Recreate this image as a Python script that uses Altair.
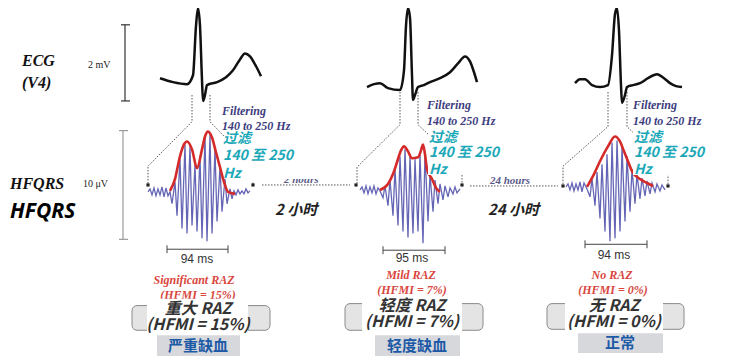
import altair as alt
import pandas as pd

# ---------------- data (image-pixel coordinates) ----------------
ecg_beat1 = [(160, 83), (173, 87), (187, 89), (193, 80), (196, 30), (198, 12), (200, 30), (202, 85), (203, 106),
             (205, 100), (207, 90), (217, 87), (226, 82), (233, 75), (240, 64), (245, 58), (250, 61), (255, 69), (261, 81)]
ecg_beat2 = [(367, 92), (374, 89), (380, 88), (388, 93), (400, 95), (404, 75), (406, 30), (408, 12), (410, 22),
             (412, 80), (413, 105), (415, 100), (418, 92), (424, 90), (430, 87), (440, 83), (450, 77), (458, 68),
             (465, 61), (470, 66), (474, 77), (477, 87)]
ecg_beat3 = [(575, 88), (580, 84), (585, 84), (592, 90), (600, 92), (608, 90), (612, 60), (615, 18), (617, 12),
             (619, 35), (621, 90), (622, 108), (625, 100), (627, 92), (633, 90), (640, 88), (648, 83), (657, 79),
             (664, 83), (670, 88), (676, 91), (682, 92)]

hf_burst1 = [(148, 198), (150, 195), (152, 201), (154, 194), (156, 202), (158, 195), (160, 201), (162, 193),
             (164, 203), (166, 194), (168, 202), (170, 198), (172, 210), (175, 188), (177, 222), (180, 165),
             (182, 235), (185, 150), (187, 240), (190, 152), (192, 232), (195, 170), (197, 238), (200, 162),
             (202, 245), (205, 142), (207, 248), (210, 140), (212, 240), (215, 155), (217, 228), (220, 172),
             (222, 218), (225, 185), (227, 210), (230, 195), (232, 205), (234, 197), (236, 201), (238, 196),
             (240, 200), (242, 197), (244, 200), (246, 195), (248, 199), (250, 197)]
hf_burst2 = [(360, 196), (362, 193), (364, 199), (366, 192), (368, 200), (370, 193), (372, 199), (374, 192),
             (376, 200), (378, 194), (380, 197), (383, 204), (385, 192), (388, 212), (390, 186), (393, 222),
             (395, 175), (398, 232), (400, 162), (403, 238), (405, 155), (408, 244), (410, 162), (413, 240),
             (415, 165), (418, 238), (420, 160), (423, 250), (425, 158), (428, 228), (430, 180), (433, 218),
             (435, 186), (438, 210), (440, 190), (443, 206), (445, 192), (448, 203), (450, 194), (453, 200),
             (455, 193), (457, 199), (460, 195)]
hf_burst3 = [(566, 193), (568, 190), (570, 196), (572, 189), (574, 197), (576, 190), (578, 196), (580, 188),
             (582, 198), (584, 189), (587, 195), (590, 203), (592, 185), (595, 212), (597, 178), (600, 225),
             (602, 170), (605, 238), (607, 160), (610, 248), (612, 148), (615, 245), (617, 146), (620, 238),
             (622, 152), (625, 228), (627, 162), (630, 218), (632, 175), (635, 210), (637, 180), (640, 205),
             (642, 184), (645, 202), (647, 187), (650, 200), (652, 189), (655, 198), (657, 190), (660, 197),
             (662, 191), (665, 196)]

env_burst1 = [(170, 197), (175, 185), (180, 162), (184, 150), (187, 147), (192, 155), (197, 174), (202, 155),
              (205, 142), (208, 137), (212, 143), (216, 158), (220, 173), (224, 188), (228, 198), (235, 200)]
env_burst2 = [(380, 196), (388, 190), (393, 180), (397, 168), (401, 156), (404, 152), (408, 157), (412, 164),
              (418, 163), (421, 156), (423, 150), (425, 160), (427, 175), (432, 185), (436, 194), (440, 198)]
env_burst3 = [(587, 193), (594, 180), (600, 167), (608, 152), (615, 142), (620, 147), (624, 157), (628, 167),
              (632, 177), (640, 185), (647, 189), (653, 192)]

dotted_paths = [
    [(192, 100), (192, 127), (148, 172), (148, 190)],
    [(210, 100), (210, 127), (253, 172), (253, 190)],
    [(400, 97), (400, 130), (357, 173), (357, 190)],
    [(418, 97), (418, 130), (462, 172), (462, 190)],
    [(608, 97), (608, 132), (563, 172), (563, 190)],
    [(627, 97), (627, 132), (668, 172), (668, 190)],
    [(262, 191), (350, 191)],
    [(470, 192), (558, 192)],
]
end_dots = [(148, 191), (253, 191), (356, 191), (462, 191), (563, 192), (668, 192)]

ms_bars = [
    [(167, 256), (228, 256)], [(167, 252), (167, 260)], [(228, 252), (228, 260)],
    [(383, 257), (445, 257)], [(383, 253), (383, 261)], [(445, 253), (445, 261)],
    [(585, 251), (647, 251)], [(585, 247), (585, 255)], [(647, 247), (647, 255)],
]
ecg_scale = [[(125, 29), (125, 106)], [(121, 29), (130, 29)], [(121, 106), (130, 106)]]
hf_scale = [[(123, 136), (123, 246)], [(119, 136), (128, 136)], [(119, 246), (128, 246)]]

gray_boxes = [(132, 313, 270, 338), (345, 311, 483, 338), (547, 311, 684, 337)]
white_boxes = [(147, 306, 248, 341), (362, 306, 462, 341), (565, 306, 663, 341),
               (224, 136, 302, 170), (230, 170, 262, 188),
               (428, 135, 506, 181), (633, 135, 711, 181),
               (280, 176, 335, 185)]
label_boxes = [(157, 343, 240, 364), (375, 343, 460, 364), (578, 341, 663, 361)]

title_texts = [("ECG", 22, 66), ("(V4)", 22, 88), ("HFQRS", 10, 190)]
unit_texts = [("2 mV", 88, 70), ("10 μV", 83, 190)]
filter_texts = [("Filtering", 222, 116), ("140 to 250 Hz", 222, 131),
                ("Filtering", 427, 110), ("140 to 250 Hz", 427, 126),
                ("Filtering", 633, 110), ("140 to 250 Hz", 633, 126)]
hours_texts = [("2 hours", 284, 186), ("24 hours", 490, 187)]
raz_texts = [("Significant RAZ", 194, 287), ("(HFMI = 15%)", 198, 302),
             ("Mild RAZ", 411, 282), ("(HFMI = 7%)", 412, 297),
             ("No RAZ", 612, 282), ("(HFMI = 0%)", 613, 297)]
teal_texts = [("过滤", 223, 145), ("140 至 250", 223, 162), ("Hz", 223, 180),
              ("过滤", 429, 143), ("140 至 250", 429, 159), ("Hz", 429, 176),
              ("过滤", 634, 143), ("140 至 250", 634, 159), ("Hz", 634, 176)]
cn_hours = [("2 小时", 275, 216), ("24 小时", 488, 216)]
hfqrs_cn = [("HFQRS", 10, 218)]
ms_texts = [("94 ms", 197, 266), ("95 ms", 412, 265), ("94 ms", 614, 262)]
cn_raz = [("重大 RAZ", 198, 316), ("(HFMI = 15%)", 198, 333),
          ("轻度 RAZ", 412, 313), ("(HFMI = 7%)", 412, 330),
          ("无 RAZ", 614, 313), ("(HFMI = 0%)", 614, 330)]
cn_labels = [("严重缺血", 198, 354), ("轻度缺血", 417, 354), ("正常", 620, 351)]

# ---------------- helpers ----------------
XS = alt.Scale(domain=[8, 722], nice=False, zero=False)
YS = alt.Scale(domain=[364, 12], nice=False, zero=False)
X = lambda f="x": alt.X(f"{f}:Q", scale=XS, axis=None)
Y = lambda f="y": alt.Y(f"{f}:Q", scale=YS, axis=None)


def paths_df(paths):
    rows = []
    for g, pts in enumerate(paths):
        for i, (x, y) in enumerate(pts):
            rows.append({"g": g, "i": i, "x": x, "y": y})
    return pd.DataFrame(rows)


def line_layer(paths, **kw):
    return alt.Chart(paths_df(paths)).mark_line(**kw).encode(
        x=X(), y=Y(), detail="g:N", order="i:Q")


def rect_layer(boxes, **kw):
    df = pd.DataFrame([{"x": a, "y": b, "x2": c, "y2": d} for a, b, c, d in boxes])
    return alt.Chart(df).mark_rect(**kw).encode(
        x=X(), y=Y(), x2=alt.X2("x2"), y2=alt.Y2("y2"))


def text_layer(items, **kw):
    df = pd.DataFrame([{"t": t, "x": x, "y": y} for t, x, y in items])
    kw.setdefault("baseline", "middle")
    return alt.Chart(df).mark_text(**kw).encode(x=X(), y=Y(), text="t:N")


SERIF = "Liberation Serif"
CJK = "Noto Sans CJK SC"

layers = [
    rect_layer(gray_boxes, fill="#e4e4e4", stroke="#8a8a8a", strokeWidth=1, cornerRadius=5),
    line_layer(ecg_scale, color="#333333", strokeWidth=1.2),
    line_layer(hf_scale, color="#9a9a9a", strokeWidth=1.2),
    line_layer(dotted_paths, color="#555555", strokeWidth=1, strokeDash=[1.5, 1.5]),
    line_layer([ecg_beat1, ecg_beat2, ecg_beat3], color="#111111", strokeWidth=2.5,
               strokeJoin="round", interpolate="monotone"),
    line_layer([hf_burst1, hf_burst2, hf_burst3], color="#4a4aa8", strokeWidth=1.3, opacity=0.85),
    line_layer([env_burst1, env_burst2, env_burst3], color="#d42a2a", strokeWidth=2.6,
               interpolate="monotone"),
    alt.Chart(pd.DataFrame([{"x": x, "y": y} for x, y in end_dots])).mark_square(
        size=10, color="#222222", opacity=1).encode(x=X(), y=Y()),
    line_layer(ms_bars, color="#444444", strokeWidth=1),
    text_layer(filter_texts, align="left", font=SERIF, fontSize=12, fontStyle="italic",
               fontWeight="bold", color="#3d3d80"),
    text_layer(hours_texts, align="left", font=SERIF, fontSize=11, fontStyle="italic",
               fontWeight="bold", color="#5a5a8a"),
    text_layer(raz_texts, align="center", font=SERIF, fontSize=12, fontStyle="italic",
               fontWeight="bold", color="#d9463e"),
    rect_layer(white_boxes, fill="white"),
    rect_layer(label_boxes, fill="#d6d8dc"),
    text_layer(title_texts, align="left", font=SERIF, fontSize=16, fontStyle="italic",
               fontWeight="bold", color="#111111"),
    text_layer(unit_texts, align="left", font=SERIF, fontSize=10, color="#222222"),
    text_layer(teal_texts, align="left", font=CJK, fontSize=14, fontStyle="italic",
               fontWeight="bold", color="#1aa7b8"),
    text_layer(cn_hours, align="left", font=CJK, fontSize=15, fontStyle="italic",
               fontWeight="bold", color="#222222"),
    text_layer(hfqrs_cn, align="left", font="Noto Sans", fontSize=21, fontStyle="italic",
               fontWeight="bold", color="#000000"),
    text_layer(ms_texts, align="center", font="Liberation Sans", fontSize=12, color="#333333"),
    text_layer(cn_raz, align="center", font=CJK, fontSize=16, fontStyle="italic",
               fontWeight="bold", color="#333333"),
    text_layer(cn_labels, align="center", font=CJK, fontSize=15, fontWeight="bold",
               color="#1d5aa6"),
]

chart = alt.layer(*layers).properties(
    width=714, height=348, padding=0,
    autosize=alt.AutoSizeParams(type="none"),
    background="white",
).configure_view(strokeWidth=0)

chart.save("out.html", embed_options={"renderer": "svg", "actions": False})
